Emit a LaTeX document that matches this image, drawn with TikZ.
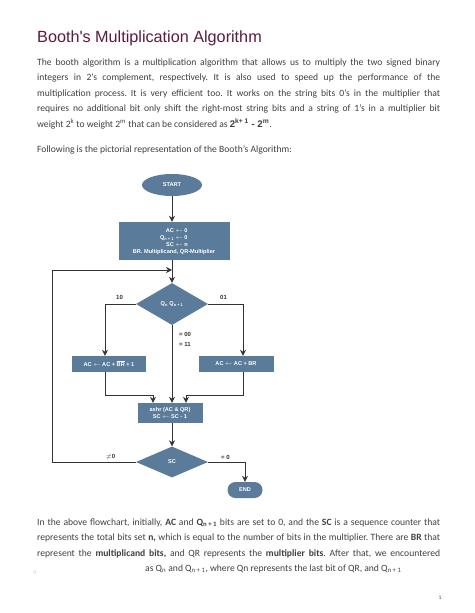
\documentclass[tikz,border=0pt]{standalone}
\usepackage{fontspec}
\setmainfont{Carlito}
\newfontfamily\arialf{Liberation Sans}
\usetikzlibrary{shapes.geometric,arrows.meta}
\definecolor{titlec}{HTML}{5C1A40}
\definecolor{bodyc}{HTML}{404040}
\definecolor{boxc}{HTML}{5B7B9A}
\definecolor{linec}{HTML}{333333}
\frenchspacing
\begin{document}
\begin{tikzpicture}[x=1pt,y=-1pt,
  para/.style={anchor=north west,inner sep=0,text width=403pt,align=justify,text=bodyc,font=\fontsize{9.6}{15.5}\selectfont},
  fc/.style={fill=boxc,draw=none,text=white,font=\arialf\bfseries\fontsize{5.6}{7.6}\selectfont,inner sep=1pt,align=center},
  fbox/.style={fc,rectangle},
  fdia/.style={fc,diamond,inner sep=0pt},
  lbl/.style={font=\arialf\bfseries\fontsize{6}{7}\selectfont,text=linec,inner sep=0,anchor=west},
  conn/.style={draw=linec,line width=0.8pt},
  arr/.style={conn,-{Stealth[length=6pt,width=6pt]}}
]
\useasboundingbox[fill=white] (0,0) rectangle (474,613);
% Title
\node[anchor=base west,inner sep=0,text=titlec,font=\arialf\fontsize{16.2}{18}\selectfont] (title) at (37,42) {Booth's Multiplication Algorithm};
% Intro paragraph
\node[para] (p1) at (37,58.5) {\emergencystretch=0pt The booth algorithm is a multiplication algorithm that allows us to multiply the two signed binary\linebreak
integers in 2's complement, respectively. It is also used to speed up the performance of the\linebreak
multiplication process. It is very efficient too. It works on the string bits 0's in the multiplier that\linebreak
requires no additional bit only shift the right-most string bits and a string of 1's in a multiplier bit\linebreak
weight 2\textsuperscript{k} to weight 2\textsuperscript{m} that can be considered as {\arialf\bfseries 2\textsuperscript{k+ 1} - 2\textsuperscript{m}}.};
\node[para,text width=] (p2) at (37,145.5) {Following is the pictorial representation of the Booth's Algorithm:};
% Flowchart
\node[fc,ellipse,minimum width=60pt,minimum height=22pt] (start) at (172,185) {START};
\node[fbox,minimum width=111pt,minimum height=38pt] (init) at (174,241) {\renewcommand{\arraystretch}{0.92}\begin{tabular}{@{}r@{\ }c@{\ }l@{}}AC&$\leftarrow$&0\\Q\textsubscript{n + 1}&$\leftarrow$&0\\SC&$\leftarrow$&n\end{tabular}\\BR. Multiplicand, QR-Multiplier};
\node[fdia,minimum width=72pt,minimum height=42pt] (d1) at (172,304) {Q\textsubscript{n} Q\textsubscript{n + 1}};
\node[fbox,minimum width=74pt,minimum height=16pt] (lbox) at (109,364) {AC $\leftarrow$ AC + $\overline{\mbox{BR}}$ + 1};
\node[fbox,minimum width=75pt,minimum height=16pt] (rbox) at (236,364) {AC $\leftarrow$ AC + BR};
\node[fbox,minimum width=65pt,minimum height=20pt] (ashr) at (170,413) {ashr (AC \& QR)\\SC $\leftarrow$ SC - 1};
\node[fdia,minimum width=72pt,minimum height=31pt] (sc) at (172,462) {SC};
\node[fc,rounded corners=8pt,minimum width=35pt,minimum height=16pt] (end) at (245,490) {END};
% coordinates
\coordinate (loopc) at (52,270);
\coordinate (jl) at (153,395);
\coordinate (jr) at (186,395);
% connectors
\draw[arr] (start.south) -- (start.south |- init.north);
\draw[arr] (start.south |- init.south) -- (start.south |- d1.north);
\draw[arr] ([xshift=-4pt]lbox.north |- d1.west) -| ([xshift=-4pt]lbox.north);
\draw[conn] (d1.west) -- ([xshift=-4pt]lbox.north |- d1.west);
\draw[arr] (d1.east) -| ([xshift=7pt]rbox.north);
\draw[arr] (d1.south) -- (d1.south |- ashr.north);
\draw[conn] ([xshift=-4pt]lbox.south) |- (jl);
\draw[arr] (jl) -- (jl |- ashr.north);
\draw[conn] ([xshift=7pt]rbox.south) |- (jr);
\draw[arr] (jr) -- (jr |- ashr.north);
\draw[arr] (sc.north |- ashr.south) -- (sc.north);
\draw[arr] (sc.west) -| (loopc) -- (start.south |- loopc);
\draw[arr] (sc.east) -| (end.north);
% labels
\node[lbl] (l10) at (116,297.5) {10};
\node[lbl] (l01) at (220,297.5) {01};
\node[lbl] (l00) at (179,334.5) {= 00};
\node[lbl] (l11) at (179,344.5) {= 11};
\node[lbl] (lne) at (106,457) {$\neq$0};
\node[lbl] (leq) at (221,457) {= 0};
% bottom paragraph
\node[para] (p3) at (37,518.5) {In the above flowchart, initially, \textbf{AC} and \textbf{Q\textsubscript{n + 1}} bits are set to 0, and the \textbf{SC} is a sequence counter that\linebreak
represents the total bits set \textbf{n,} which is equal to the number of bits in the multiplier. There are \textbf{BR} that\linebreak
represent the \textbf{multiplicand bits,} and QR represents the \textbf{multiplier bits}. After that, we encountered\linebreak};
\node[para,text width=295pt] (p4) at (145,564.5) {\parfillskip=0pt as Q\textsubscript{n} and Q\textsubscript{n + 1}, where Qn represents the last bit of QR, and Q\textsubscript{n + 1}};
\node[anchor=base,inner sep=0,text=black!20,font=\fontsize{6}{7}\selectfont] (mark) at (35,574) {0};
\node[anchor=base,inner sep=0,text=bodyc,font=\fontsize{5.5}{6}\selectfont] (pg) at (440,599) {1};
\end{tikzpicture}
\end{document}
